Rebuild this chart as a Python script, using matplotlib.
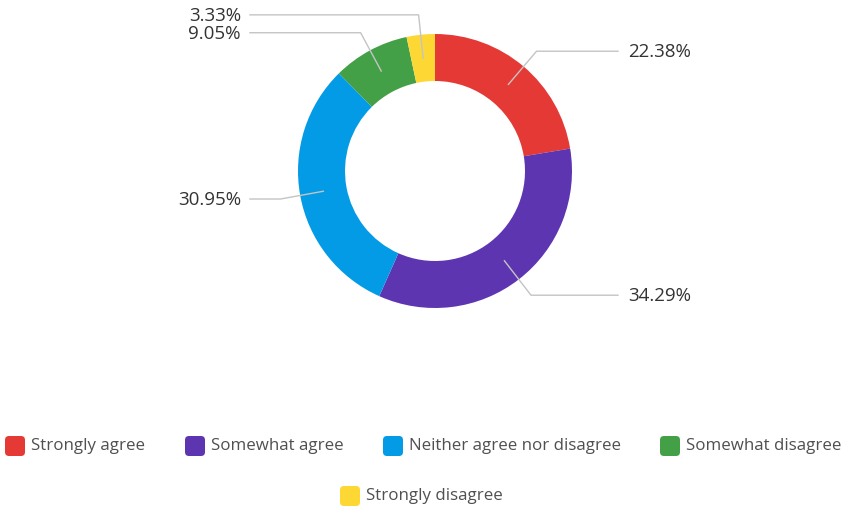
import numpy as np
import matplotlib.pyplot as plt
from matplotlib.patches import FancyBboxPatch

# data
categories = ['Strongly agree', 'Somewhat agree', 'Neither agree nor disagree',
              'Somewhat disagree', 'Strongly disagree']
values = [22.38, 34.29, 30.95, 9.05, 3.33]
colors = ['#E53935', '#5E35B1', '#039BE5', '#43A047', '#FDD835']

plt.rcParams['font.family'] = ['Open Sans', 'DejaVu Sans']

W, H = 845, 511
fig = plt.figure(figsize=(W / 100, H / 100), dpi=100)
ax = fig.add_axes([0, 0, 1, 1])

# donut, pixel coords with y measured upward
cx, cy = 435, H - 171
r_out, r_in = 137, 90
wedges, _ = ax.pie(values, colors=colors, startangle=90, counterclock=False,
                   center=(cx, cy), radius=r_out,
                   wedgeprops=dict(width=r_out - r_in, linewidth=0))

# leader lines + labels
r_mid = (r_out + r_in) / 2
r_elb = 157
for w, v in zip(wedges, values):
    ang = np.deg2rad((w.theta1 + w.theta2) / 2)
    x0, y0 = cx + r_mid * np.cos(ang), cy + r_mid * np.sin(ang)
    x1, y1 = cx + r_elb * np.cos(ang), cy + r_elb * np.sin(ang)
    if np.cos(ang) >= 0:
        x2, tx, ha = 618, 628, 'left'
    else:
        x2, tx, ha = 250, 241, 'right'
    ax.plot([x0, x1, x2], [y0, y1, y1], color='#c4c4c4', lw=1, zorder=3)
    ax.text(tx, y1 - 1, f'{v:.2f}%', ha=ha, va='center', fontsize=13.5,
            color='#333333')

# legend
leg_x = [5, 185, 383, 660, 340]
leg_y = [446, 446, 446, 446, 496]
for lab, c, lx, ly in zip(categories, colors, leg_x, leg_y):
    ax.add_patch(FancyBboxPatch((lx, H - ly - 10), 20, 20,
                                boxstyle='round,pad=0,rounding_size=4',
                                fc=c, ec='none'))
    ax.text(lx + 26, H - ly, lab, ha='left', va='center', fontsize=12.2,
            color='#505050')

ax.set_xlim(0, W)
ax.set_ylim(0, H)
ax.set_aspect('equal')
ax.axis('off')

plt.savefig('out.png', dpi=100)
